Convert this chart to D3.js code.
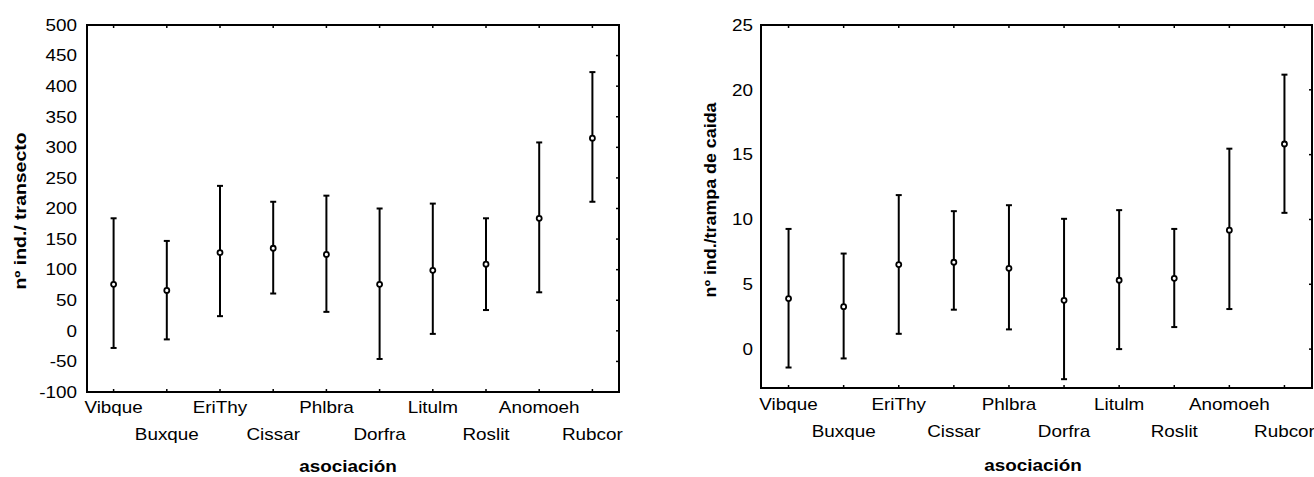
<!DOCTYPE html>
<html>
<head>
<meta charset="utf-8">
<script src="https://cdn.jsdelivr.net/npm/d3@7"></script>
<style>
  body { margin: 0; background: #fff; }
  text { font-family: "Liberation Sans", Arial, sans-serif; fill: #000; }
</style>
</head>
<body>
<svg id="chart" width="1314" height="477"></svg>
<script>
(function () {
    // categories shared by both panels
    const categories = ["Vibque", "Buxque", "EriThy", "Cissar", "Phlbra", "Dorfra", "Litulm", "Roslit", "Anomoeh", "Rubcor"];

    // left panel: nº ind./ transecto
    const transMean  = [76, 66, 128, 135, 125, 76, 99, 109, 184, 315];
    const transLow   = [-28, -14, 24, 61, 31, -46, -5, 34, 63, 211];
    const transHigh  = [184, 147, 237, 211, 221, 200, 208, 184, 308, 423];
    const transTicks = [-100, -50, 0, 50, 100, 150, 200, 250, 300, 350, 400, 450, 500];

    // right panel: nº ind./trampa de caida
    const trampMean  = [3.9, 3.27, 6.52, 6.7, 6.23, 3.76, 5.31, 5.46, 9.17, 15.82];
    const trampLow   = [-1.42, -0.72, 1.18, 3.04, 1.52, -2.32, 0.0, 1.7, 3.09, 10.51];
    const trampHigh  = [9.27, 7.37, 11.88, 10.64, 11.1, 10.05, 10.72, 9.27, 15.46, 21.17];
    const trampTicks = [0, 5, 10, 15, 20, 25];

    const svg = d3.select("#chart");
    const stretch = 1.18; // text in the original is a bit wide

    function panel(opts) {
        const g = svg.append("g");
        const x = d3.scalePoint().domain(categories).range([opts.x0, opts.x1]).padding(0.5);
        const y = d3.scaleLinear().domain(opts.domain).range([opts.y1, opts.y0]);

        const rows = categories.map((c, i) => ({ c: c, m: opts.mean[i], lo: opts.low[i], hi: opts.high[i] }));

        // inner ticks: bottom and top at categories, right at value ticks
        g.append("g").selectAll("line")
            .data(categories)
            .join("line")
            .attr("x1", d => x(d)).attr("x2", d => x(d))
            .attr("y1", opts.y1).attr("y2", opts.y1 - 3)
            .attr("stroke", "#000").attr("stroke-width", 1.5);
        g.append("g").selectAll("line")
            .data(categories)
            .join("line")
            .attr("x1", d => x(d)).attr("x2", d => x(d))
            .attr("y1", opts.y0).attr("y2", opts.y0 + 3)
            .attr("stroke", "#000").attr("stroke-width", 1.5);
        g.append("g").selectAll("line")
            .data(opts.ticks)
            .join("line")
            .attr("x1", opts.x1).attr("x2", opts.x1 - 3)
            .attr("y1", d => y(d)).attr("y2", d => y(d))
            .attr("stroke", "#000").attr("stroke-width", 1.5);

        // frame
        g.append("rect")
            .attr("x", opts.x0).attr("y", opts.y0)
            .attr("width", opts.x1 - opts.x0).attr("height", opts.y1 - opts.y0)
            .attr("fill", "none").attr("stroke", "#000").attr("stroke-width", 2);

        // y tick labels
        g.append("g").selectAll("text")
            .data(opts.ticks)
            .join("text")
            .attr("transform", d => "translate(" + (opts.x0 - opts.gap) + "," + y(d) + ") scale(" + stretch + ",1)")
            .attr("dy", "0.36em")
            .attr("text-anchor", "end")
            .attr("font-size", 16)
            .text(d => d);

        // category labels, staggered on two rows
        g.append("g").selectAll("text")
            .data(categories)
            .join("text")
            .attr("transform", (d, i) => "translate(" + x(d) + "," + (opts.y1 + (i % 2 === 0 ? opts.row1 : opts.row2)) + ") scale(" + stretch + ",1)")
            .attr("text-anchor", "middle")
            .attr("font-size", 16)
            .text(d => d);

        // error bars
        const bars = g.append("g").selectAll("g")
            .data(rows)
            .join("g");
        bars.append("line")
            .attr("x1", d => x(d.c)).attr("x2", d => x(d.c))
            .attr("y1", d => y(d.lo)).attr("y2", d => y(d.hi))
            .attr("stroke", "#000").attr("stroke-width", 2);
        bars.append("line")
            .attr("x1", d => x(d.c) - 3).attr("x2", d => x(d.c) + 3)
            .attr("y1", d => y(d.hi)).attr("y2", d => y(d.hi))
            .attr("stroke", "#000").attr("stroke-width", 2);
        bars.append("line")
            .attr("x1", d => x(d.c) - 3).attr("x2", d => x(d.c) + 3)
            .attr("y1", d => y(d.lo)).attr("y2", d => y(d.lo))
            .attr("stroke", "#000").attr("stroke-width", 2);
        bars.append("circle")
            .attr("cx", d => x(d.c)).attr("cy", d => y(d.m))
            .attr("r", 2.5)
            .attr("fill", "#fff").attr("stroke", "#000").attr("stroke-width", 1.8);

        // axis titles
        g.append("text")
            .attr("transform", "translate(" + opts.xTitleX + "," + opts.xTitleY + ") scale(" + stretch + ",1)")
            .attr("text-anchor", "middle")
            .attr("font-size", 16)
            .attr("font-weight", "bold")
            .text("asociación");
        g.append("text")
            .attr("transform", "translate(" + opts.titleX + "," + opts.titleY + ") rotate(-90)")
            .attr("text-anchor", "middle")
            .attr("dy", "0.35em")
            .attr("font-size", 16)
            .attr("font-weight", "bold")
            .attr("textLength", opts.titleLen)
            .attr("lengthAdjust", "spacingAndGlyphs")
            .text(opts.title);
    }

    panel({
        x0: 87, x1: 619, y0: 25, y1: 392, gap: 10, row1: 21, row2: 48,
        domain: [-100, 500], ticks: transTicks,
        mean: transMean, low: transLow, high: transHigh,
        title: "nº ind./ transecto", titleX: 20, titleY: 211, titleLen: 157,
        xTitleX: 348, xTitleY: 472
    });

    panel({
        x0: 761, x1: 1312, y0: 25, y1: 388, gap: 8, row1: 22, row2: 48.5,
        domain: [-3, 25], ticks: trampTicks,
        mean: trampMean, low: trampLow, high: trampHigh,
        title: "nº ind./trampa de caida", titleX: 710, titleY: 200, titleLen: 195,
        xTitleX: 1033, xTitleY: 471
    });
})();
</script>
</body>
</html>
